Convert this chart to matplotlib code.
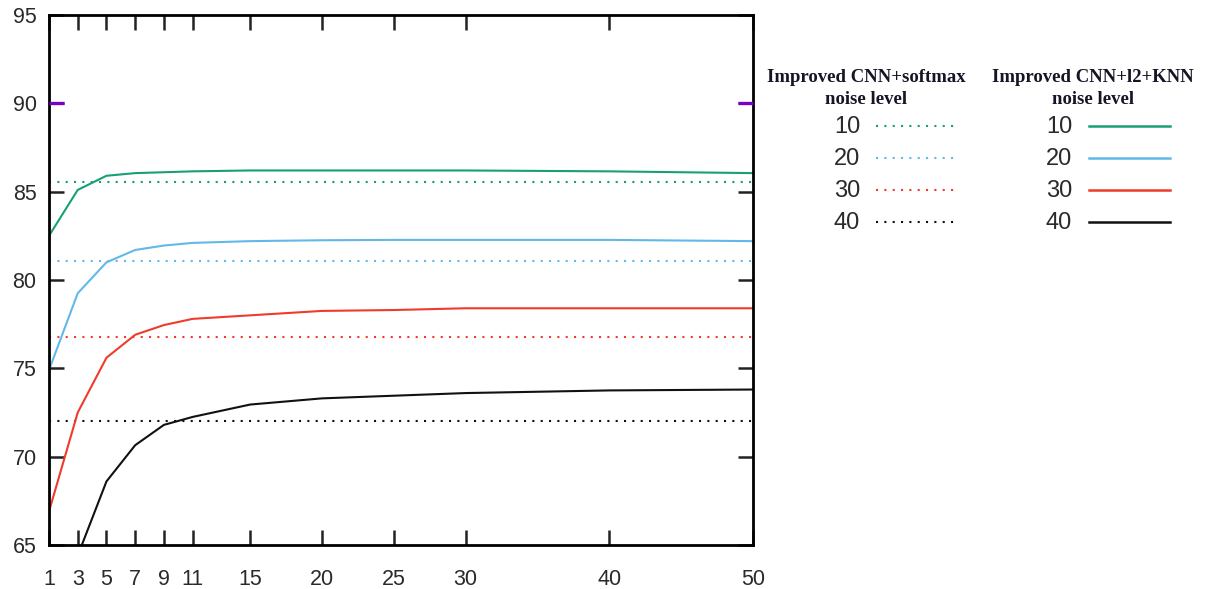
import matplotlib.pyplot as plt
import matplotlib.transforms as mtransforms
from matplotlib.lines import Line2D

# k values (x axis) and tick labels
k_vals = [1, 3, 5, 7, 9, 11, 15, 20, 25, 30, 40, 50]
x_ticks = [1, 3, 5, 7, 9, 11, 15, 20, 25, 30, 40, 50]
y_ticks = [65, 70, 75, 80, 85, 90, 95]

noise_levels = ["10", "20", "30", "40"]
colors = ["#17a078", "#63b8ea", "#ef3b2c", "#111111"]

# Improved CNN+softmax baseline (constant per noise level)
softmax_acc = [85.55, 81.08, 76.78, 72.02]

# Improved CNN+l2+KNN accuracy vs k
knn_10 = [82.5, 85.1, 85.9, 86.05, 86.1, 86.15, 86.2, 86.2, 86.2, 86.2, 86.15, 86.05]
knn_20 = [74.9, 79.25, 81.0, 81.7, 81.95, 82.1, 82.2, 82.25, 82.27, 82.27, 82.27, 82.2]
knn_30 = [66.9, 72.5, 75.6, 76.9, 77.45, 77.8, 78.0, 78.25, 78.3, 78.4, 78.4, 78.4]
knn_40 = [60.0, 64.4, 68.6, 70.65, 71.8, 72.25, 72.95, 73.3, 73.45, 73.6, 73.75, 73.8]
knn_acc = [knn_10, knn_20, knn_30, knn_40]

DOT = (0, (1, 3))
fig = plt.figure(figsize=(12.15, 5.89), dpi=100)
ax = fig.add_axes([49 / 1215, 44 / 589, 704 / 1215, 530 / 589])

for acc, c in zip(softmax_acc, colors):
    ax.plot([k_vals[0], k_vals[-1]], [acc, acc], color=c, linestyle=DOT, linewidth=1.5)
for acc, c in zip(knn_acc, colors):
    ax.plot(k_vals, acc, color=c, linewidth=1.5, solid_joinstyle="round")

ax.set_xlim(1, 50)
ax.set_ylim(65, 95)
ax.set_xticks(x_ticks)
ax.set_yticks(y_ticks)
ax.tick_params(direction="in", length=11, width=1.8, top=True, right=True,
               labelsize=15.5, color="#222222")
ax.tick_params(axis="x", pad=17)
ax.tick_params(axis="y", pad=9)
for lab in ax.get_xticklabels() + ax.get_yticklabels():
    lab.set_fontfamily("Liberation Sans")
    lab.set_color("#2a2a2a")
for s in ax.spines.values():
    s.set_linewidth(2)

# the 90 tick is drawn in purple in the original (over the black one)
tr = mtransforms.blended_transform_factory(ax.transAxes, ax.transData)
for x0, x1 in [(0, 15 / 704), (1 - 15 / 704, 1)]:
    ax.plot([x0, x1], [90, 90], transform=tr, color="#7a00c8", linewidth=2.4,
            solid_capstyle="butt", clip_on=False, zorder=5)

# legend, two titled columns
W, H = 1215, 589
def fx(px):
    return px / W
def fy(py):
    return 1 - py / H

title_font = dict(family="Liberation Serif", weight="bold", fontsize=13.5,
                  ha="center", va="center", color="#151525")
fig.text(fx(866), fy(77), "Improved CNN+softmax", **title_font)
fig.text(fx(866), fy(100), "noise level", **title_font)
fig.text(fx(1093), fy(77), "Improved CNN+l2+KNN", **title_font)
fig.text(fx(1093), fy(100), "noise level", **title_font)

row_y = [127, 159, 191, 223]
for lvl, c, ry in zip(noise_levels, colors, row_y):
    fig.text(fx(860), fy(ry), lvl, family="Liberation Sans", fontsize=17,
             ha="right", va="center", color="#2a2a2a")
    fig.add_artist(Line2D([fx(876), fx(956)], [fy(ry - 1), fy(ry - 1)], color=c,
                          linestyle=DOT, linewidth=1.5))
    fig.text(fx(1072), fy(ry), lvl, family="Liberation Sans", fontsize=17,
             ha="right", va="center", color="#2a2a2a")
    fig.add_artist(Line2D([fx(1089), fx(1170)], [fy(ry - 1), fy(ry - 1)], color=c,
                          linewidth=1.8))

fig.savefig("out.png", dpi=100)
